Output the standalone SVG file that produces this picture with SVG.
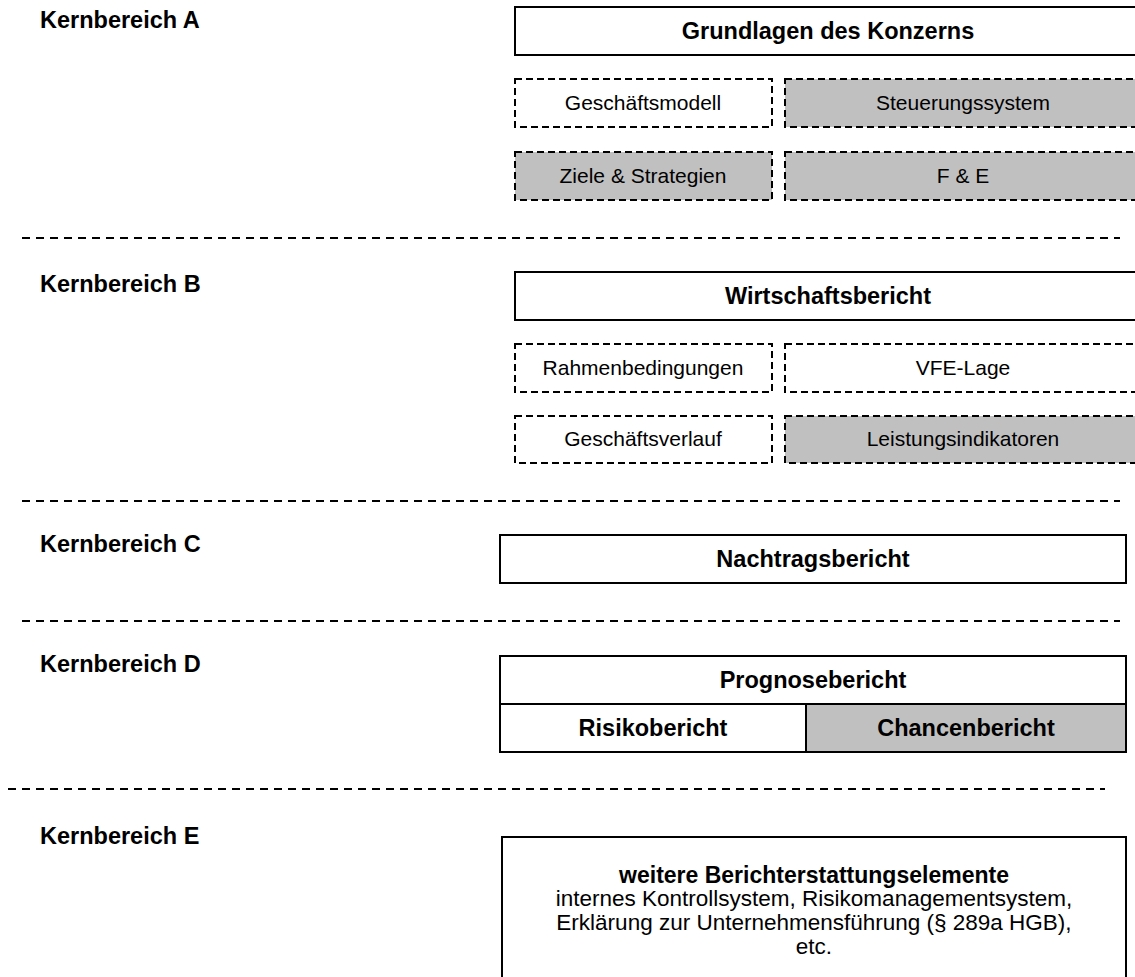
<svg xmlns="http://www.w3.org/2000/svg" width="1135" height="977" viewBox="0 0 1135 977">
<style>
text{font-family:"Liberation Sans",Arial,sans-serif;fill:#000}
.lbl{font-size:23.5px;font-weight:bold}
.bt{font-size:23.5px;font-weight:bold;text-anchor:middle}
.rt{font-size:21px;text-anchor:middle}
.wt{font-size:22.5px;text-anchor:middle}
.wb{font-size:23px;font-weight:bold;text-anchor:middle}
.solid{fill:#fff;stroke:#000;stroke-width:2}
.dash{fill:#fff;stroke:#000;stroke-width:2;stroke-dasharray:7 4}
.dashg{fill:#c0c0c0;stroke:#000;stroke-width:2;stroke-dasharray:7 4}
.grey{fill:#c0c0c0;stroke:#000;stroke-width:2}
.sep{stroke:#000;stroke-width:2;stroke-dasharray:8 6;fill:none}
</style>
<rect width="1135" height="977" fill="#fff"/>
<g id="separators">
<line class="sep" x1="22" y1="238" x2="1120" y2="238"/>
<line class="sep" x1="22" y1="501" x2="1120" y2="501"/>
<line class="sep" x1="22" y1="621" x2="1120" y2="621"/>
<line class="sep" x1="8" y1="789" x2="1105" y2="789"/>
</g>
<g id="labels">
<text class="lbl" x="40" y="28">Kernbereich A</text>
<text class="lbl" x="40" y="292">Kernbereich B</text>
<text class="lbl" x="40" y="552">Kernbereich C</text>
<text class="lbl" x="40" y="672">Kernbereich D</text>
<text class="lbl" x="40" y="844">Kernbereich E</text>
</g>
<g id="grundlagen"><rect class="solid" x="515" y="7" width="626" height="48"/><text class="bt" x="828" y="39">Grundlagen des Konzerns</text></g>
<g id="geschaeftsmodell"><rect class="dash" x="515" y="79" width="257" height="48"/><text class="rt" x="643" y="110">Geschäftsmodell</text></g>
<g id="steuerungssystem"><rect class="dashg" x="785" y="79" width="356" height="48"/><text class="rt" x="963" y="110">Steuerungssystem</text></g>
<g id="ziele"><rect class="dashg" x="515" y="152" width="257" height="48"/><text class="rt" x="643" y="183">Ziele &amp; Strategien</text></g>
<g id="fue"><rect class="dashg" x="785" y="152" width="356" height="48"/><text class="rt" x="963" y="183">F &amp; E</text></g>
<g id="wirtschaftsbericht"><rect class="solid" x="515" y="272" width="626" height="48"/><text class="bt" x="828" y="304">Wirtschaftsbericht</text></g>
<g id="rahmen"><rect class="dash" x="515" y="344" width="257" height="48"/><text class="rt" x="643" y="375">Rahmenbedingungen</text></g>
<g id="vfe"><rect class="dash" x="785" y="344" width="356" height="48"/><text class="rt" x="963" y="375">VFE-Lage</text></g>
<g id="verlauf"><rect class="dash" x="515" y="416" width="257" height="47"/><text class="rt" x="643" y="446">Geschäftsverlauf</text></g>
<g id="leistung"><rect class="dashg" x="785" y="416" width="356" height="47"/><text class="rt" x="963" y="446">Leistungsindikatoren</text></g>
<g id="nachtrag"><rect class="solid" x="500" y="535" width="626" height="48"/><text class="bt" x="813" y="567">Nachtragsbericht</text></g>
<g id="prognose"><rect class="solid" x="500" y="656" width="626" height="48"/><text class="bt" x="813" y="688">Prognosebericht</text></g>
<g id="risiko"><rect class="solid" x="500" y="704" width="306" height="48"/><text class="bt" x="653" y="736">Risikobericht</text></g>
<g id="chancen"><rect class="grey" x="806" y="704" width="320" height="48"/><text class="bt" x="966" y="736">Chancenbericht</text></g>
<g id="weitere"><rect class="solid" x="502" y="837" width="624" height="150"/>
<text class="wb" x="814" y="883">weitere Berichterstattungselemente</text>
<text class="wt" x="814" y="906">internes Kontrollsystem, Risikomanagementsystem,</text>
<text class="wt" x="814" y="930">Erklärung zur Unternehmensführung (§ 289a HGB),</text>
<text class="wt" x="814" y="954">etc.</text>
</g>
</svg>
